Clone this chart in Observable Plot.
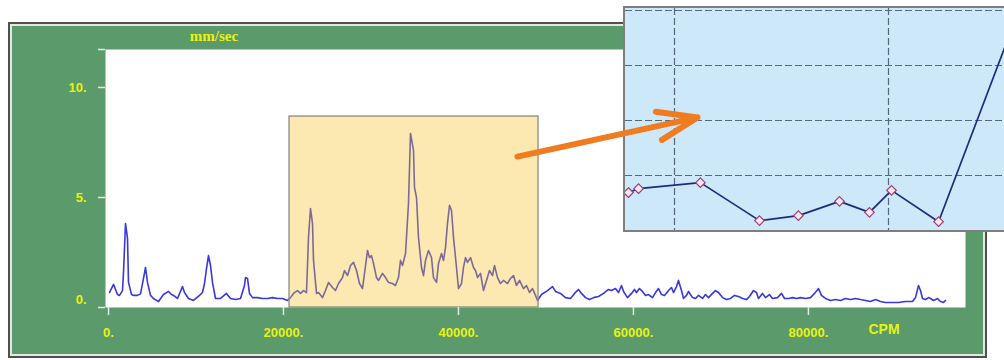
<!DOCTYPE html>
<html><head><meta charset="utf-8">
<script src="https://cdn.jsdelivr.net/npm/d3@7"></script>
<script src="https://cdn.jsdelivr.net/npm/@observablehq/plot@0.6"></script>
<style>
html,body{margin:0;padding:0;background:#fff;overflow:hidden;width:1004px;height:360px}
#wrap{position:relative;width:1004px;height:360px;overflow:hidden;font-family:"Liberation Sans",Arial,sans-serif}
#frame{position:absolute;left:8px;top:22px;width:975px;height:332px;border:2px solid #4f4f4f;background:#5b9a6b;box-shadow:inset 0 0 0 2px #e2e8e2}
.layer{position:absolute;left:0;top:0}
#inset{position:absolute;left:623px;top:6px;width:400px;height:222px;border:2px solid #7e7e7e;background:#cde8f9;overflow:hidden}
.lbl{position:absolute;color:#e9f20f;font-weight:bold;white-space:nowrap;transform:translateX(-50%)}
#ytitle{left:214px;top:29px;font:bold 15px/15px "Liberation Serif",serif}
#xtitle{left:884px;top:322px;font:bold 14px/14px "Liberation Sans",Arial,sans-serif}
</style></head>
<body>
<div id="wrap">
  <div id="frame"></div>
</div>
<script>
// ---- main spectrum (CPM vs mm/sec) ----
const cpm = [114,572,1029,1257,1600,1715,1943,2172,2286,2629,2858,3315,3658,4001,4229,4458,4801,5144,5715,6287,6858,7201,7430,7887,8458,8687,9144,9715,10401,10744,10973,11201,11430,11659,11887,12230,12802,13487,13944,14516,15088,15545,15659,15888,16116,16459,17031,17602,18173,18745,19316,19888,20459,
20802,21145,21603,21946,22289,22631,22860,23089,23317,23432,23775,24003,24460,24803,25146,25603,25946,26289,26746,26975,27318,27661,28004,28347,28689,29032,29261,29604,29833,30061,30290,30633,30862,31319,31662,32004,32462,32804,33147,33376,33604,33947,34290,34519,
34862,34976,35205,35433,35776,36005,36233,36576,36919,37148,37490,37719,38062,38291,38519,38748,38976,39205,39434,39776,40005,40348,40577,40805,41034,41377,41720,41948,42177,42520,42863,43205,43548,43891,44120,44463,44806,45148,45606,45949,46291,46634,46977,47434,47777,48120,48463,48806,49034,49491,
50177,50749,51092,51663,52235,52807,53264,53721,54064,54521,54978,55436,56007,56579,57150,57493,57950,58293,58636,58865,59322,59779,60122,60350,60693,61036,61379,61722,62179,62522,62865,63208,63551,64008,64351,64580,64923,65151,65494,65723,66066,66294,66751,67094,67437,67894,68237,68580,69037,69380,69723,70180,70637,71095,71552,72009,72466,72923,
73266,73723,74066,74295,74752,75095,75552,75895,76467,76924,77267,77724,78181,78638,79096,79667,80239,80696,81153,81496,81953,82525,83096,83668,84239,84811,85382,85954,86525,87097,87668,88240,88811,89611,90297,91097,91897,92240,92583,92811,93040,93383,93726,93954,94297,94754,95097,95440,95669];
const mmsec = [0.68,1.05,0.59,0.55,0.77,1.59,3.82,3.14,1.14,0.59,0.55,0.55,0.62,1.32,1.82,1.14,0.55,0.41,0.27,0.59,0.73,0.59,0.55,0.41,0.95,0.68,0.41,0.32,0.55,0.68,1.09,1.77,2.36,1.91,1.14,0.41,0.41,0.64,0.41,0.36,0.41,1.0,1.36,1.32,0.64,0.45,0.45,0.41,0.41,0.45,0.41,0.41,0.32,
0.45,0.64,0.77,0.64,0.77,0.68,3.18,4.5,3.82,2.14,0.64,0.68,0.45,0.77,1.14,0.91,0.77,1.09,1.36,1.68,1.45,1.91,2.05,1.68,1.09,0.86,1.55,2.59,2.27,2.36,2.0,1.36,1.23,1.55,1.36,1.14,1.09,1.0,1.36,2.14,1.91,2.45,4.73,7.91,
7.14,5.45,5.0,3.18,1.82,1.45,2.14,2.59,2.27,1.36,1.14,2.0,2.45,2.14,2.73,3.82,4.64,4.41,3.18,1.82,0.86,1.09,1.82,2.27,2.05,2.27,1.82,1.68,1.36,1.55,0.77,1.23,1.68,1.45,1.91,1.36,1.09,1.23,1.09,1.32,1.45,1.0,1.23,0.86,1.0,0.68,0.86,0.55,0.32,0.59,
0.77,0.95,0.73,0.64,0.45,0.41,0.64,0.82,0.64,0.45,0.36,0.45,0.5,0.64,0.82,0.77,0.86,0.68,1.0,0.73,0.45,0.64,0.82,0.68,0.86,0.73,0.55,0.59,0.45,0.68,0.86,0.59,0.55,0.77,0.91,0.68,0.95,1.23,0.77,0.41,0.55,0.73,0.45,0.41,0.55,0.41,0.59,0.45,0.64,0.77,0.68,0.45,0.36,0.41,0.55,0.5,0.41,0.36,
0.5,0.77,0.68,0.41,0.64,0.45,0.59,0.41,0.45,0.64,0.41,0.41,0.45,0.41,0.45,0.41,0.45,0.64,0.86,0.55,0.41,0.32,0.36,0.32,0.41,0.36,0.41,0.36,0.32,0.27,0.36,0.27,0.23,0.23,0.23,0.27,0.27,0.45,1.0,0.77,0.41,0.36,0.45,0.41,0.32,0.41,0.27,0.23,0.32];
const xTicks = [0, 20000, 40000, 60000, 80000];
const yTicks = [0, 5, 10];
const xDomain = [-343, 97955];
const yDomain = [0, 11.727];

// highlighted band (yellow box)
const bandX1 = [20690], bandX2 = [49150], bandTop = [8.68];

// orange arrow (in main chart units)
const arrowFrom = [{cpm: 46750, v: 6.86}], arrowTo = [{cpm: 67320, v: 8.64}];

// ---- inset zoom (arbitrary units) ----
const zoomX = [7.5, 7.85, 8.32, 11.21, 13.97, 15.79, 17.71, 19.11, 20.14, 22.34, 25.95];
const zoomY = [0.67, 0.69, 0.76, 0.87, 0.18, 0.27, 0.53, 0.33, 0.73, 0.16, 3.86];
const zoomGridX = [10, 20];
const zoomGridY = [0, 1, 2, 3, 4];

const spectrum = cpm.map((c, i) => ({cpm: c, v: mmsec[i]}));
const band = bandX1.map((x1, i) => ({x1, x2: bandX2[i], y2: bandTop[i]}));
const arrows = arrowFrom.map((a, i) => ({x1: a.cpm, y1: a.v, x2: arrowTo[i].cpm, y2: arrowTo[i].v}));
const zoomPts = zoomX.map((x, i) => ({x, y: zoomY[i]}));

const yellow = "#e9f20f";
const tickCol = "#e4ebe4";
const fontFam = '"Liberation Sans", Arial, sans-serif';
const dims = {width: 1004, height: 360, marginLeft: 105, marginRight: 39, marginTop: 49, marginBottom: 53};

const main = Plot.plot({
  ...dims,
  style: {background: "transparent", fontFamily: fontFam},
  x: {domain: xDomain},
  y: {domain: yDomain},
  marks: [
    Plot.frame({fill: "white", stroke: "none"}),
    Plot.line(spectrum, {x: "cpm", y: "v", stroke: "#3838dc", strokeWidth: 1.6}),
    Plot.rect(band, {x1: "x1", x2: "x2", y1: 0, y2: "y2", fill: "#f6c228", fillOpacity: 0.36, stroke: "#8d8a80", strokeWidth: 1.3}),
    Plot.axisX({ticks: xTicks, tickSize: 8, tickPadding: 12, tickFormat: d => d + ".", stroke: tickCol, strokeWidth: 1.5, fill: yellow, fontSize: 13, fontWeight: "bold", label: null}),
    Plot.axisY({ticks: yTicks.concat([yDomain[1]]), tickSize: 7, fill: "none", stroke: tickCol, strokeWidth: 1.5, label: null}),
    Plot.text(yTicks.filter(d => d > 0), {y: d => d, text: d => d + ".", frameAnchor: "left", dx: -19, textAnchor: "end", fill: yellow, fontSize: 13, fontWeight: "bold"}),
    Plot.text(yTicks.filter(d => d === 0), {y: d => d, text: d => d + ".", frameAnchor: "left", dx: -19, dy: -8, textAnchor: "end", fill: yellow, fontSize: 13, fontWeight: "bold"})
  ]
});
main.classList.add("layer");

const inset = Plot.plot({
  width: 400, height: 222, margin: 0,
  style: {background: "transparent", overflow: "hidden"},
  x: {domain: [7.71, 7.71 + 400 / 21.4], axis: null},
  y: {domain: [0, 4.036], axis: null},
  marks: [
    Plot.gridX({ticks: zoomGridX, stroke: "#56687f", strokeOpacity: 1, strokeWidth: 1.2, strokeDasharray: "7,3"}),
    Plot.gridY({ticks: zoomGridY, stroke: "#56687f", strokeOpacity: 1, strokeWidth: 1.2, strokeDasharray: "7,3"}),
    Plot.line(zoomPts, {x: "x", y: "y", stroke: "#1f2a7c", strokeWidth: 1.7}),
    Plot.dot(zoomPts, {x: "x", y: "y", symbol: "diamond2", r: 4.3, stroke: "#9a3f6c", fill: "#f4e6f1", strokeWidth: 1.2})
  ]
});
const insetBox = document.createElement("div");
insetBox.id = "inset";
insetBox.appendChild(inset);

const over = Plot.plot({
  ...dims,
  style: {background: "transparent"},
  x: {domain: xDomain, axis: null},
  y: {domain: yDomain, axis: null},
  marks: [
    Plot.arrow(arrows, {x1: "x1", y1: "y1", x2: "x2", y2: "y2", stroke: "#f07b20", strokeWidth: 6, headLength: 10.5, headAngle: 40, strokeLinecap: "round", strokeLinejoin: "round"})
  ]
});
over.classList.add("layer");

const wrap = document.getElementById("wrap");
wrap.appendChild(main);
wrap.appendChild(insetBox);
wrap.appendChild(over);

const yt = document.createElement("div");
yt.id = "ytitle"; yt.className = "lbl"; yt.textContent = "mm/sec";
const xt = document.createElement("div");
xt.id = "xtitle"; xt.className = "lbl"; xt.textContent = "CPM";
wrap.appendChild(yt);
wrap.appendChild(xt);
</script>
</body></html>
